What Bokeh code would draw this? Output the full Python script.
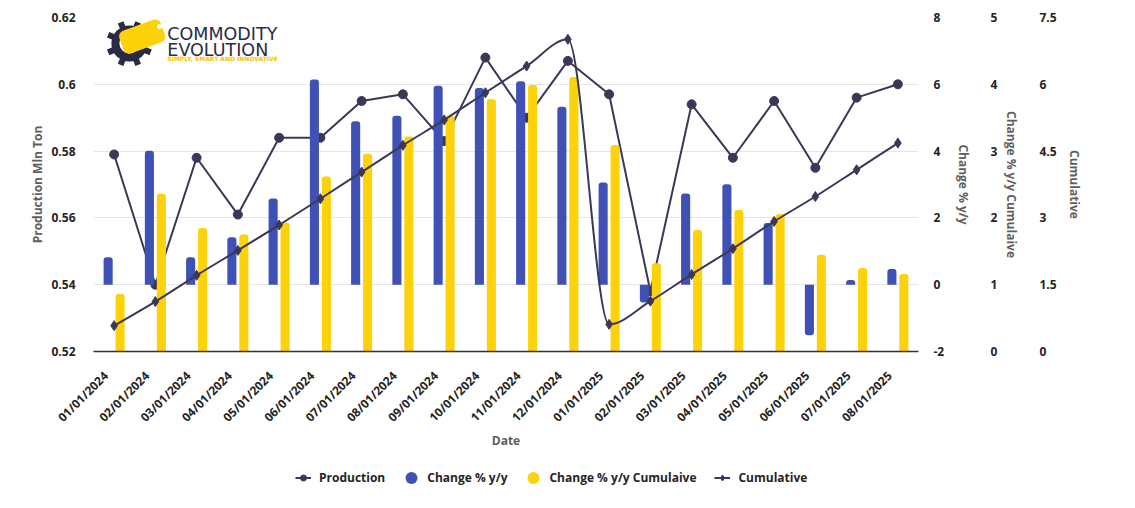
import numpy as np
from bokeh.plotting import figure
from bokeh.layouts import column
from bokeh.models import (Range1d, LinearAxis, FixedTicker, CustomJSTickFormatter,
                          ColumnDataSource, Legend, LegendItem, CDSView, BooleanFilter)
from bokeh.embed import file_html
from bokeh.resources import INLINE
from bokeh.core.properties import value

# ---------------- data ----------------
dates = ["01/01/2024", "02/01/2024", "03/01/2024", "04/01/2024", "05/01/2024",
         "06/01/2024", "07/01/2024", "08/01/2024", "09/01/2024", "10/01/2024",
         "11/01/2024", "12/01/2024", "01/01/2025", "02/01/2025", "03/01/2025",
         "04/01/2025", "05/01/2025", "06/01/2025", "07/01/2025", "08/01/2025"]
production = [0.579, 0.540, 0.578, 0.561, 0.584, 0.584, 0.595, 0.597, 0.583, 0.608,
              0.590, 0.607, 0.597, 0.538, 0.594, 0.578, 0.595, 0.575, 0.596, 0.600]
change_yy = [0.82, 4.01, 0.82, 1.42, 2.58, 6.14, 4.89, 5.06, 5.96, 5.89,
             6.09, 5.33, 3.06, -0.53, 2.73, 3.01, 1.85, -1.51, 0.14, 0.47]
change_yy_cum = [0.86, 2.36, 1.85, 1.75, 1.93, 2.62, 2.96, 3.22, 3.52, 3.78,
                 3.99, 4.11, 3.09, 1.32, 1.82, 2.12, 2.06, 1.45, 1.25, 1.16]
cumulative = [0.58, 1.12, 1.71, 2.27, 2.84, 3.43, 4.03, 4.63, 5.20, 5.81,
              6.41, 7.01, 0.61, 1.13, 1.73, 2.31, 2.92, 3.48, 4.08, 4.68]

prod_ticks = [0.52, 0.54, 0.56, 0.58, 0.6, 0.62]
chg_ticks = [-2, 0, 2, 4, 6, 8]
cum_ticks = [0, 1, 2, 3, 4, 5]
cuml_ticks = [0, 1.5, 3, 4.5, 6, 7.5]

# ---------------- style ----------------
FONT = "Open Sans"
DARK = "#252423"
GRAY = "#605e5c"
NAVY = "#3b3857"
BLUE = "#3f51b5"
YELLOW = "#fdd20a"
LOGO = "#2b2a44"

n = len(dates)
xc = np.arange(n) + 0.5
BAR_W = 0.22
OFF = 0.145
LABEL_SHIFT = 0.2   # rotated date labels sit slightly left of the category centre

p = figure(width=1135, height=460, output_backend="svg", toolbar_location=None,
           x_range=Range1d(0, n), y_range=Range1d(0.52, 0.62),
           min_border_left=93, min_border_right=217, min_border_top=17,
           min_border_bottom=109)
p.outline_line_color = None
p.background_fill_color = "white"
p.border_fill_color = "white"

p.extra_y_ranges = {"chg": Range1d(-2, 8), "cum": Range1d(0, 5), "cuml": Range1d(0, 7.5)}

fmt = CustomJSTickFormatter(code="return String(Math.round(tick*100)/100);")

def style_axis(ax, label_standoff, axis_label_standoff):
    ax.axis_line_color = None
    ax.major_tick_line_color = None
    ax.minor_tick_line_color = None
    ax.major_label_text_font = FONT
    ax.major_label_text_font_style = "bold"
    ax.major_label_text_font_size = "12px"
    ax.major_label_text_color = DARK
    ax.axis_label_text_font = FONT
    ax.axis_label_text_font_style = "bold"
    ax.axis_label_text_font_size = "12px"
    ax.axis_label_text_color = GRAY
    ax.major_label_standoff = label_standoff
    ax.axis_label_standoff = axis_label_standoff

# left axis
yax = p.yaxis[0]
yax.ticker = FixedTicker(ticks=prod_ticks)
yax.formatter = fmt
yax.axis_label = "Production Mln Ton"
style_axis(yax, 12, 2)

# x axis
xax = p.xaxis[0]
tick_x = [float(round(x - LABEL_SHIFT, 3)) for x in xc]
xax.ticker = FixedTicker(ticks=tick_x)
xax.major_label_overrides = {t: d for t, d in zip(tick_x, dates)}
xax.axis_label = "Date"
style_axis(xax, 16, -2)
xax.axis_line_color = "#333333"
xax.axis_line_width = 1.5
xax.major_label_orientation = np.pi / 4

# right axes
ax1 = LinearAxis(y_range_name="chg", ticker=FixedTicker(ticks=chg_ticks),
                 formatter=fmt, axis_label="Change % y/y")
style_axis(ax1, 9, 8)
ax2 = LinearAxis(y_range_name="cum", ticker=FixedTicker(ticks=cum_ticks),
                 formatter=fmt, axis_label="Change % y/y Cumulaive")
style_axis(ax2, 9, 3)
ax3 = LinearAxis(y_range_name="cuml", ticker=FixedTicker(ticks=cuml_ticks),
                 formatter=fmt, axis_label="Cumulative")
style_axis(ax3, 10, 6)
p.add_layout(ax1, "right")
p.add_layout(ax2, "right")
p.add_layout(ax3, "right")

# grid
p.xgrid.visible = False
p.ygrid.ticker = FixedTicker(ticks=prod_ticks)
p.ygrid.grid_line_color = "#e6e6e6"
p.ygrid.grid_line_width = 1

# ---------------- production line (behind bars) ----------------
src_prod = ColumnDataSource(dict(x=xc, y=production))
p.line("x", "y", source=src_prod, line_color=NAVY, line_width=2)
p.scatter("x", "y", source=src_prod, marker="circle", size=9,
          fill_color=NAVY, line_color=NAVY)

# ---------------- bars ----------------
chg = np.array(change_yy)
src_chg = ColumnDataSource(dict(x=xc - OFF, top=np.maximum(chg, 0), bottom=np.minimum(chg, 0)))
pos = BooleanFilter(booleans=[bool(v >= 0) for v in chg])
neg = BooleanFilter(booleans=[bool(v < 0) for v in chg])
p.vbar(x="x", top="top", bottom="bottom", width=BAR_W, source=src_chg, view=CDSView(filter=pos),
       y_range_name="chg", fill_color=BLUE, line_color=None, border_radius=(3, 3, 0, 0))
p.vbar(x="x", top="top", bottom="bottom", width=BAR_W, source=src_chg, view=CDSView(filter=neg),
       y_range_name="chg", fill_color=BLUE, line_color=None, border_radius=(0, 0, 3, 3))

src_cum = ColumnDataSource(dict(x=xc + OFF, top=change_yy_cum))
p.vbar(x="x", top="top", bottom=0, width=BAR_W, source=src_cum, y_range_name="cum",
       fill_color=YELLOW, line_color=None, border_radius=(3, 3, 0, 0))

# ---------------- cumulative smooth line (monotone cubic) ----------------
def monotone_segments(xs, ys):
    xs = np.asarray(xs, float)
    ys = np.asarray(ys, float)
    h = np.diff(xs)
    s = np.diff(ys) / h
    t = np.zeros(len(xs))
    for i in range(1, len(xs) - 1):
        h0, h1, s0, s1 = h[i - 1], h[i], s[i - 1], s[i]
        pp = (s0 * h1 + s1 * h0) / (h0 + h1)
        t[i] = (np.sign(s0) + np.sign(s1)) * min(abs(s0), abs(s1), 0.5 * abs(pp))
    t[0] = (3 * s[0] - t[1]) / 2
    t[-1] = (3 * s[-1] - t[-2]) / 2
    d = h / 3
    return dict(x0=xs[:-1], y0=ys[:-1], x1=xs[1:], y1=ys[1:],
                cx0=xs[:-1] + d, cy0=ys[:-1] + d * t[:-1],
                cx1=xs[1:] - d, cy1=ys[1:] - d * t[1:])

src_bez = ColumnDataSource(monotone_segments(xc, cumulative))
p.bezier(x0="x0", y0="y0", x1="x1", y1="y1", cx0="cx0", cy0="cy0",
         cx1="cx1", cy1="cy1", source=src_bez, y_range_name="cuml",
         line_color=NAVY, line_width=2)
src_cuml = ColumnDataSource(dict(x=xc, y=cumulative))
p.scatter("x", "y", source=src_cuml, marker="diamond", size=10,
          y_range_name="cuml", fill_color=NAVY, line_color=NAVY)

# ---------------- logo ----------------
gx, gy = 0.87, 0.6122
for k in range(4):
    p.rect(x=[gx], y=[gy], width=6, height=46, width_units="screen", height_units="screen",
           angle=k * np.pi / 4 + np.pi / 8, fill_color=LOGO, line_color=None)
p.circle(x=[gx], y=[gy], radius=18, radius_units="screen", fill_color=LOGO, line_color=None)
p.circle(x=[gx], y=[gy], radius=10, radius_units="screen", fill_color="white", line_color=None)
p.rect(x=[1.18], y=[0.6143], width=44, height=24, width_units="screen", height_units="screen",
       angle=np.pi / 9, fill_color=YELLOW, line_color=None, border_radius=6)
p.circle(x=[1.6], y=[0.6173], radius=2.5, radius_units="screen", fill_color="white", line_color=None)
p.text(x=[1.79], y=[0.6182], text=["COMMODITY"], text_font=value("DejaVu Sans"),
       text_font_size="17.5px", text_color=LOGO, text_baseline="top")
p.text(x=[1.79], y=[0.6133], text=["EVOLUTION"], text_font=value("DejaVu Sans"),
       text_font_size="17.5px", text_color=LOGO, text_baseline="top")
p.text(x=[1.79], y=[0.6088], text=["SIMPLY, SMART AND INNOVATIVE"], text_font=value("DejaVu Sans"),
       text_font_size="6px", text_color="#f2c200", text_baseline="top", text_font_style="bold")

# ---------------- legend (separate strip under the chart) ----------------
lf = figure(width=1135, height=48, output_backend="svg", toolbar_location=None,
            x_range=Range1d(0, 1), y_range=Range1d(0, 1),
            x_axis_location=None, y_axis_location=None,
            min_border_left=93, min_border_right=217, min_border_top=0, min_border_bottom=0)
lf.outline_line_color = None
lf.xgrid.visible = False
lf.ygrid.visible = False
# legend-only renderers: placed outside the visible range
hx, hy = [-5, -4], [-5, -5]
leg_line1 = lf.line(hx, hy, line_color=NAVY, line_width=2)
leg_pt1 = lf.scatter(hx[:1], hy[:1], marker="circle", size=8, fill_color=NAVY, line_color=NAVY)
leg_blue = lf.ellipse(hx[:1], hy[:1], width=12, height=12, width_units="screen",
                      height_units="screen", fill_color=BLUE, line_color=None)
leg_yel = lf.ellipse(hx[:1], hy[:1], width=12, height=12, width_units="screen",
                     height_units="screen", fill_color=YELLOW, line_color=None)
leg_line2 = lf.line(hx, hy, line_color=NAVY, line_width=2)
leg_pt2 = lf.scatter(hx[:1], hy[:1], marker="diamond", size=9, fill_color=NAVY, line_color=NAVY)

legend = Legend(items=[
    LegendItem(label="Production", renderers=[leg_line1, leg_pt1]),
    LegendItem(label="Change % y/y", renderers=[leg_blue]),
    LegendItem(label="Change % y/y Cumulaive", renderers=[leg_yel]),
    LegendItem(label="Cumulative", renderers=[leg_line2, leg_pt2]),
], orientation="horizontal", location=(202, 22))
legend.border_line_color = None
legend.background_fill_alpha = 0
legend.label_text_font = FONT
legend.label_text_font_style = "bold"
legend.label_text_font_size = "12px"
legend.label_text_color = DARK
legend.glyph_width = 16
legend.glyph_height = 15
legend.label_standoff = 8
legend.spacing = 18
legend.padding = 0
legend.margin = 0
lf.add_layout(legend, "center")

layout = column(p, lf, spacing=0)
open("out.html", "w").write(file_html(layout, INLINE))
